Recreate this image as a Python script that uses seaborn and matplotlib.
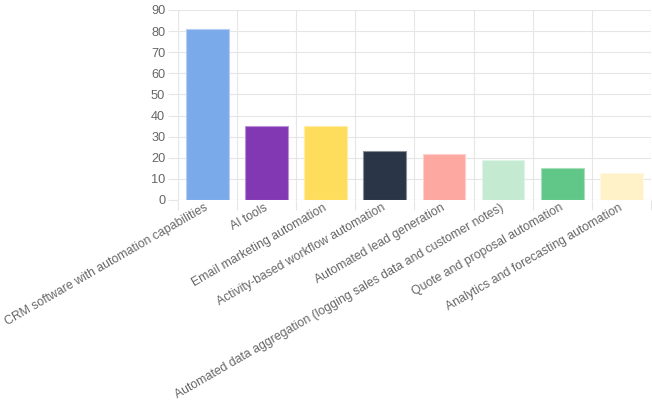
import matplotlib
matplotlib.use("Agg")
import matplotlib.pyplot as plt
import matplotlib.colors as mcolors
import seaborn as sns
import pandas as pd
import numpy as np

# data
categories = [
    "CRM software with automation capabilities",
    "AI tools",
    "Email marketing automation",
    "Activity-based workflow automation",
    "Automated lead generation",
    "Automated data aggregation (logging sales data and customer notes)",
    "Quote and proposal automation",
    "Analytics and forecasting automation",
]
values = [81, 35, 35, 23, 22, 19, 15, 13]
bar_colors = ["#7BAAEB", "#8338B3", "#FFDD5C", "#2A3547",
              "#FDA8A0", "#C4EBD2", "#61C788", "#FFF2C9"]

df = pd.DataFrame({"category": categories, "value": values})

sns.set_theme(style="white")
plt.rcParams["font.family"] = ["Liberation Sans", "DejaVu Sans"]

grid_col = "#e6e6e6"
text_col = "#666666"

fig = plt.figure(figsize=(6.52, 4.0), dpi=100)
ax = fig.add_axes([177.7 / 652, 1 - 200 / 400, (651 - 177.7) / 652, 190 / 400])

sns.barplot(data=df, x="category", y="value", hue="category",
            palette=bar_colors, saturation=1, legend=False, width=0.72,
            ax=ax, zorder=3)

# lighter 1px border on each bar
for patch, c in zip(ax.patches, bar_colors):
    rgb = np.array(mcolors.to_rgb(c))
    edge = rgb + (1 - rgb) * 0.45
    patch.set_edgecolor(edge)
    patch.set_linewidth(0.8)

ax.set_ylim(0, 90)
ax.set_yticks(range(0, 91, 10))
ax.set_xlim(-0.5, len(categories) - 0.5)
ax.set_xlabel("")
ax.set_ylabel("")

for s in ax.spines.values():
    s.set_visible(False)

# horizontal grid + tick marks to the left
ax.yaxis.grid(True, color=grid_col, linewidth=0.8, zorder=0)
ax.tick_params(axis="y", length=7, width=0.8, color=grid_col,
               labelcolor=text_col, labelsize=9.2, pad=2, left=True)
ax.axhline(0, color=grid_col, linewidth=0.8, zorder=1)
ax.axvline(-0.5, color=grid_col, linewidth=0.8, zorder=1)

# vertical grid at category boundaries, with ticks hanging below
ax.set_xticks(np.arange(-0.5, len(categories), 1.0), minor=True)
ax.xaxis.grid(True, which="minor", color=grid_col, linewidth=0.8, zorder=0)
ax.tick_params(axis="x", which="minor", length=7, width=0.8,
               color=grid_col, bottom=True)
ax.tick_params(axis="x", which="major", length=0, pad=5,
               labelcolor=text_col, labelsize=8.8)
ax.set_xticks(range(len(categories)))
ax.set_xticklabels(categories, rotation=30, ha="right",
                   rotation_mode="anchor", va="center")

fig.savefig("out.png", dpi=100)
